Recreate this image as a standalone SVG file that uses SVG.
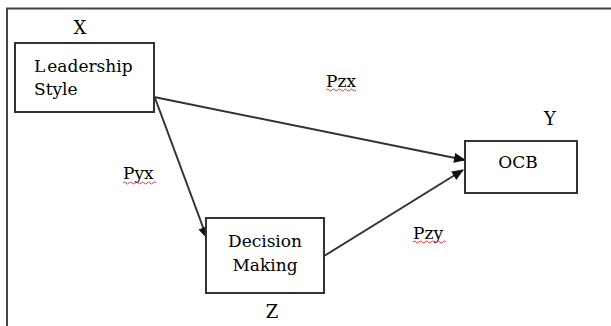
<svg xmlns="http://www.w3.org/2000/svg" width="611" height="326" viewBox="0 0 611 326">
<defs>
<style>
.box{fill:#fff;stroke:#333;stroke-width:2}
.edge{stroke:#333;stroke-width:2;fill:none}
.wavy{stroke:#e33;stroke-width:1;fill:none}
</style>
<marker id="arr" markerWidth="12" markerHeight="10" refX="11" refY="5" orient="auto" markerUnits="userSpaceOnUse">
<path d="M0,0 L12,5 L0,10 Z" fill="#111"/>
</marker>
</defs>
<rect width="611" height="326" fill="#fff"/>
<path d="M7,326 L7,8.5 L611,8.5" stroke="#444" stroke-width="2" fill="none"/>
<g id="connectors">
<line class="edge" x1="154" y1="97" x2="465" y2="160" marker-end="url(#arr)"/>
<line class="edge" x1="155" y1="98" x2="207" y2="238" marker-end="url(#arr)"/>
<line class="edge" x1="324" y1="256" x2="463" y2="170" marker-end="url(#arr)"/>
</g>
<g font-family="'DejaVu Serif', 'Liberation Serif', serif" fill="#000" font-size="17">
<g id="leadership">
<rect class="box" x="15" y="43" width="139" height="69"/>
<text x="34" y="72"><tspan>L</tspan><tspan dx="2">eadership</tspan></text>
<text x="34" y="95">Style</text>
<text x="80" y="34" font-size="18" text-anchor="middle">X</text>
</g>
<g id="decision">
<rect class="box" x="206" y="218" width="118" height="75"/>
<text x="265" y="247" text-anchor="middle">Decision</text>
<text x="265" y="271" text-anchor="middle">Making</text>
<text x="272" y="318" font-size="18" text-anchor="middle">Z</text>
</g>
<g id="ocb">
<rect class="box" x="465" y="141" width="112" height="52"/>
<text x="518" y="168" text-anchor="middle">OCB</text>
<text x="550" y="125" font-size="18" text-anchor="middle">Y</text>
</g>
<g id="labels">
<text x="123" y="179">Pyx</text>
<path class="wavy" d="M123,183 q1.5,-2 3,0 t3,0 t3,0 t3,0 t3,0 t3,0 t3,0 t3,0 t3,0 t3,0 t3,0"/>
<text x="326" y="87">Pzx</text>
<path class="wavy" d="M326,90 q1.5,-2 3,0 t3,0 t3,0 t3,0 t3,0 t3,0 t3,0 t3,0 t3,0 t3,0"/>
<text x="413" y="239">Pzy</text>
<path class="wavy" d="M413,242 q1.5,-2 3,0 t3,0 t3,0 t3,0 t3,0 t3,0 t3,0 t3,0 t3,0 t3,0 t3,0"/>
</g>
</g>
</svg>
